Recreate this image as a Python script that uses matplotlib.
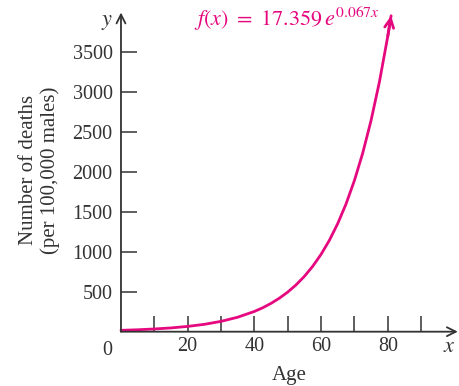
import matplotlib.pyplot as plt

# values
ages = [0, 5, 10, 15, 20, 25, 30, 35, 40, 42.5, 45, 47.5, 50, 52.5, 55, 57.5,
        60, 62.5, 65, 67.5, 70, 72.5, 75, 77.5, 80, 81]
deaths = [17, 24, 34, 47, 66, 92, 129, 181, 253, 299, 354, 419, 495, 585, 692, 818,
          967, 1143, 1352, 1598, 1890, 2234, 2642, 3123, 3692, 3949]

x_ticks = [10, 20, 30, 40, 50, 60, 70, 80, 90]
x_labels = ['', '20', '', '40', '', '60', '', '80', '']
y_ticks = [500, 1000, 1500, 2000, 2500, 3000, 3500]

MAG = '#e5087f'
AX = '#333333'

plt.rcParams['font.family'] = ['Liberation Serif', 'DejaVu Serif']
plt.rcParams['mathtext.fontset'] = 'stix'

fig = plt.figure(figsize=(4.6, 3.86), dpi=100)
ax = fig.add_axes([0.263, 0.1407, 0.7322, 0.829])
ax.set_xlim(0, 101)
ax.set_ylim(0, 4000)
for s in ax.spines.values():
    s.set_visible(False)

# axes with open arrowheads
ax.annotate('', xy=(101, 0), xytext=(0, 0), annotation_clip=False,
            arrowprops=dict(arrowstyle='->', color=AX, lw=1.3, mutation_scale=16,
                            shrinkA=0, shrinkB=0))
ax.annotate('', xy=(0, 3990), xytext=(0, 0), annotation_clip=False,
            arrowprops=dict(arrowstyle='->', color=AX, lw=1.3, mutation_scale=16,
                            shrinkA=0, shrinkB=0))

ax.set_xticks(x_ticks)
ax.set_xticklabels(x_labels)
ax.set_yticks(y_ticks)
ax.tick_params(direction='in', length=11.5, width=1.1, color=AX, labelcolor=AX,
               labelsize=14.5, pad=4)
ax.tick_params(axis='y', pad=6)

ax.plot(ages, deaths, color=MAG, lw=2, solid_capstyle='round', clip_on=False)
ax.annotate('', xy=(ages[-1], deaths[-1]), xytext=(ages[-2], deaths[-2]),
            annotation_clip=False,
            arrowprops=dict(arrowstyle='->', color=MAG, lw=2, mutation_scale=16,
                            shrinkA=0, shrinkB=0))

ax.text(49.8, 3905, r'$f(x)\ =\ 17.359\,e^{0.067x}$', color=MAG, fontsize=16,
        ha='center', va='center')
ax.text(-4.2, -120, '0', ha='center', va='top', fontsize=14.5, color=AX)
ax.text(-4.2, 3860, r'$y$', ha='center', va='center', fontsize=16, color=AX)
ax.text(98.5, -200, r'$x$', ha='center', va='center', fontsize=16, color=AX)

ax.set_xlabel('Age', fontsize=15, color=AX, labelpad=7)
fig.text(0.085, 0.56, 'Number of deaths\n(per 100,000 males)', rotation=90,
         ha='center', va='center', fontsize=15, color=AX, multialignment='center',
         linespacing=1.15)

fig.savefig('out.png', dpi=100)
